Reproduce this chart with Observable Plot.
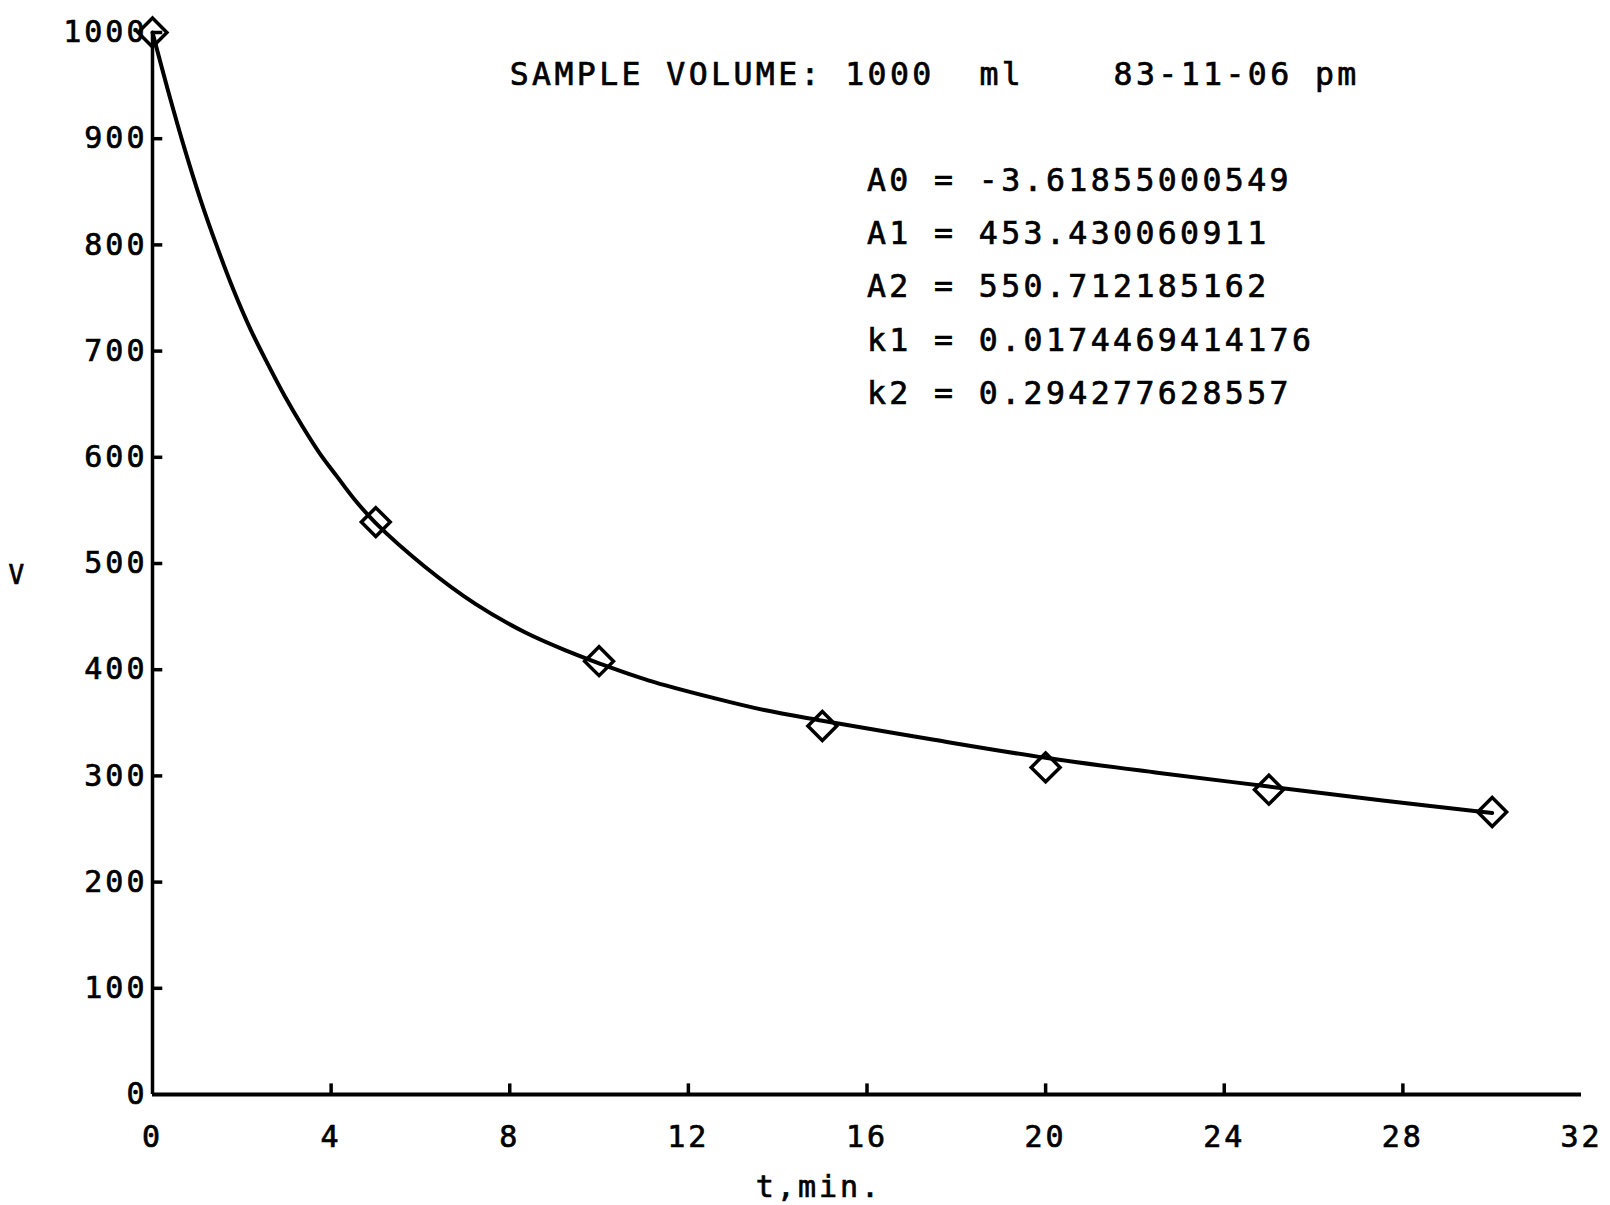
<!DOCTYPE html>
<html>
<head>
<meta charset="utf-8">
<script src="https://cdn.jsdelivr.net/npm/d3@7"></script>
<script src="https://cdn.jsdelivr.net/npm/@observablehq/plot@0.6"></script>
<style>
  html, body { margin: 0; padding: 0; background: #fff; }
  #chart svg text { white-space: pre; letter-spacing: 3px; stroke: #000; stroke-width: 0.7px; }
  #chart svg g.note text { letter-spacing: 3.4px; }
</style>
</head>
<body>
<div id="chart"></div>
<script>
// Measured samples (diamonds)
const sampleT = [0, 5, 10, 15, 20, 25, 30];
const sampleV = [1000, 539, 408, 347, 308, 287, 266];

// Fitted curve
const fitT = [0, 0.35, 0.73, 1.08, 1.43, 1.81, 2.2, 2.58, 2.97, 3.36, 3.74, 4.13, 4.51, 5,
              6.1, 7.23, 8.35, 9.32, 10, 11.1, 12.6, 13.7, 15, 17.5, 20, 22.5, 25, 27.5, 30];
const fitV = [1000, 945, 889, 842, 800, 758, 720, 688, 657, 629, 604, 582, 561, 538,
              497, 462, 435, 417, 406, 390, 373, 362, 352, 334, 317, 303, 290, 277, 265];

// Tick labels
const xTicks = [0, 4, 8, 12, 16, 20, 24, 28, 32];
const yTicks = [0, 100, 200, 300, 400, 500, 600, 700, 800, 900, 1000];

// Annotation texts
const headerText = "SAMPLE VOLUME: 1000  ml    83-11-06 pm";
const paramNames = ["A0", "A1", "A2", "k1", "k2"];
const paramValues = ["-3.61855000549", "453.430060911", "550.712185162", "0.0174469414176", "0.294277628557"];
const xLabel = "t,min.";
const yLabel = "V";

// Annotation anchors (data units)
const headerAt = {x: 8, y: 960};
const paramAtX = 16;
const paramAtY = [860, 810, 760, 710, 660];

const samples = sampleT.map((t, i) => ({t, v: sampleV[i]}));
const fit = fitT.map((t, i) => ({t, v: fitV[i]}));
const params = paramNames.map((n, i) => ({x: paramAtX, y: paramAtY[i], text: `${n} = ${paramValues[i]}`}));

const font = "'DejaVu Sans Mono', 'Liberation Mono', monospace";

const chart = Plot.plot({
  width: 1610,
  height: 1205,
  marginLeft: 152,
  marginRight: 29,
  marginTop: 32,
  marginBottom: 111,
  x: {domain: [0, 32]},
  y: {domain: [0, 1000]},
  style: {fontFamily: font, fontSize: "30px", color: "#000", background: "#fff", overflow: "visible"},
  marks: [
    Plot.ruleY([0], {x1: 0, x2: 32, stroke: "#000", strokeWidth: 4}),
    Plot.ruleX([0], {y1: 0, y2: 1000, stroke: "#000", strokeWidth: 3.5}),
    Plot.ruleX(xTicks.filter(d => d > 0 && d < 32), {y1: 0, y2: 10, stroke: "#000", strokeWidth: 3.5}),
    Plot.ruleY(yTicks.filter(d => d > 0), {x1: 0, x2: 0.23, stroke: "#000", strokeWidth: 3.5}),
    Plot.axisX({ticks: xTicks, tickSize: 0, tickPadding: 31, label: null, tickFormat: d => String(d), fill: "#000"}),
    Plot.axisY({ticks: yTicks, tickSize: 0, tickPadding: 5, label: null, tickFormat: d => String(d), fill: "#000"}),
    Plot.line(fit, {x: "t", y: "v", curve: "catmull-rom", stroke: "#000", strokeWidth: 4}),
    Plot.dot(samples, {x: "t", y: "v", symbol: "diamond2", r: 13, stroke: "#000", strokeWidth: 3.5, fill: "none"}),
    Plot.text([headerAt], {x: "x", y: "y", text: () => headerText, textAnchor: "start", fontSize: 31.5, fill: "#000", className: "note"}),
    Plot.text(params, {x: "x", y: "y", text: "text", textAnchor: "start", fontSize: 31.5, fill: "#000", className: "note"}),
    Plot.text([xLabel], {frameAnchor: "bottom", text: d => d, dx: -48, dy: 102, fontSize: 30, fill: "#000"}),
    Plot.text([yLabel], {frameAnchor: "left", text: d => d, dx: -144, dy: 12, fontSize: 26, fill: "#000"})
  ]
});

document.getElementById("chart").appendChild(chart);
</script>
</body>
</html>
